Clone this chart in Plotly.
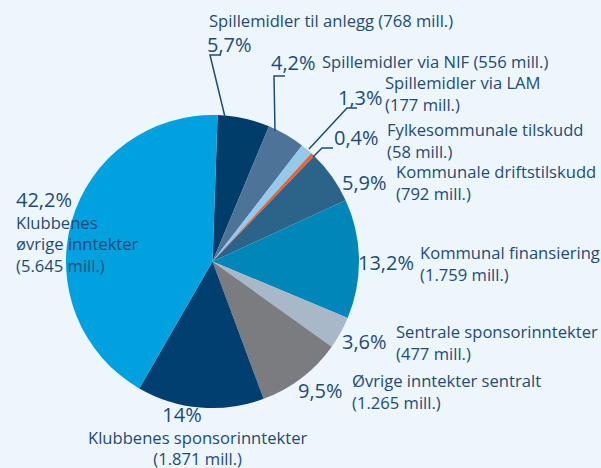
import plotly.graph_objects as go

W, H = 601, 468

labels = ["Spillemidler til anlegg", "Spillemidler via NIF", "Spillemidler via LAM",
          "Fylkesommunale tilskudd", "Kommunale driftstilskudd", "Kommunal finansiering",
          "Sentrale sponsorinntekter", "Øvrige inntekter sentralt",
          "Klubbenes sponsorinntekter", "Klubbenes øvrige inntekter"]
values = [768, 556, 177, 58, 792, 1759, 477, 1265, 1871, 5645]
value_text = ["768", "556", "177", "58", "792", "1.759", "477", "1.265", "1.871", "5.645"]
pct_text = ["5,7%", "4,2%", "1,3%", "0,4%", "5,9%", "13,2%", "3,6%", "9,5%", "14%", "42,2%"]
colors = ["#003d6b", "#4e7399", "#93c9eb", "#e8623a", "#2b6488", "#0086b9",
          "#a8b8c9", "#7b7c80", "#003f6f", "#00a1df"]

BG = "#ecf6fc"
TXT = "#1f4b78"
FONT = "Open Sans"
PSIZE = 20
LSIZE = 16.6

def px(x):
    return x / W

def py(y):
    return 1 - y / H

fig = go.Figure(go.Pie(
    labels=labels, values=values, sort=False, direction="clockwise", rotation=2,
    marker=dict(colors=colors, line=dict(width=0)),
    textinfo="none", hoverinfo="label+value+percent", showlegend=False,
    domain=dict(x=[px(66), px(359)], y=[py(408), py(115)]),
))

ann = []
def add(text, x, y, size, anchor="left"):
    ann.append(dict(text=text, x=px(x), y=py(y), xref="paper", yref="paper",
                    xanchor=anchor, yanchor="middle", showarrow=False,
                    borderpad=0,
                    font=dict(family=FONT, size=size, color=TXT), align=anchor))

def big(t):
    return f"<span style='font-size:{PSIZE}px'>{t}</span>"

add(f"{labels[0]} ({value_text[0]} mill.)", 208, 21, LSIZE)
add(pct_text[0], 206, 44, PSIZE)

add(pct_text[1], 270, 63, PSIZE)
add(f"{labels[1]} ({value_text[1]} mill.)", 321, 62, LSIZE)

add(pct_text[2], 337, 97, PSIZE)
add(f"{labels[2]}<br>({value_text[2]} mill.)", 384, 94, LSIZE)

add(pct_text[3], 333, 137, PSIZE)
add(f"{labels[3]}<br>({value_text[3]} mill.)", 386, 140, LSIZE)

add(pct_text[4], 341, 183, PSIZE)
add(f"{labels[4]}<br>({value_text[4]} mill.)", 395, 183, LSIZE)

add(pct_text[5], 357, 262, PSIZE)
add(f"{labels[5]}<br>({value_text[5]} mill.)", 419, 263, LSIZE)

add(pct_text[6], 341, 341, PSIZE)
add(f"{labels[6]}<br>({value_text[6]} mill.)", 395, 342, LSIZE)

add(pct_text[7], 297, 390, PSIZE)
add(f"{labels[7]}<br>({value_text[7]} mill.)", 351, 391, LSIZE)

add(big(pct_text[8] + "&nbsp;" * 6) + f"<br>{labels[8]}<br>({value_text[8]} mill.)",
    197, 435, LSIZE, "center")

add(big(pct_text[9]) + "<br>Klubbenes<br>øvrige inntekter<br>(" + value_text[9] + " mill.)",
    15, 231, LSIZE)

leaders = [
    [(225, 117), (210, 55), (221, 55)],
    [(275, 131), (274, 76), (285, 76)],
    [(309, 149), (347, 108), (357, 108)],
    [(313, 157), (322, 148), (333, 148)],
]
shapes = []
for pts in leaders:
    path = "M " + " L ".join(f"{px(x):.5f},{py(y):.5f}" for x, y in pts)
    shapes.append(dict(type="path", path=path, xref="paper", yref="paper",
                       line=dict(color=TXT, width=1.5)))

fig.update_layout(
    width=W, height=H, margin=dict(l=0, r=0, t=0, b=0),
    paper_bgcolor=BG, plot_bgcolor=BG,
    annotations=ann, shapes=shapes,
)
fig.write_html("out.html", config={"displayModeBar": False},
               post_script="document.body.style.margin='0';document.body.style.background='" + BG + "';")
